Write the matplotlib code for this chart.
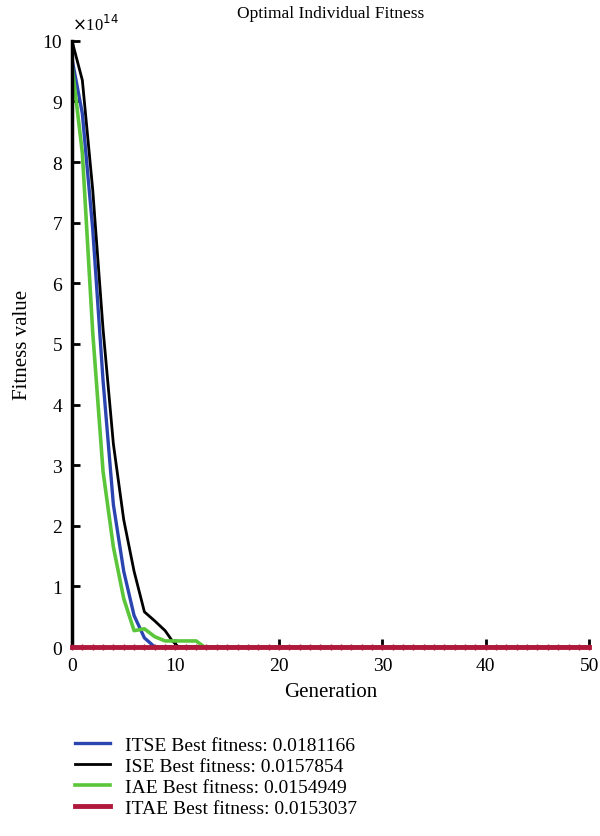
import matplotlib.pyplot as plt

plt.rcParams['font.family'] = ['Liberation Serif', 'DejaVu Serif']

# fitness values, in units of 1e14
gen_itse = [0, 1, 2, 3, 4, 5, 6, 7, 8, 50]
itse = [9.7, 8.8, 6.9, 4.4, 2.35, 1.25, 0.52, 0.15, 0.0, 0.0]

gen_ise = [0, 1, 2, 3, 4, 5, 6, 7, 8, 9, 9.7, 10.3, 50]
ise = [10.0, 9.35, 7.55, 5.25, 3.35, 2.1, 1.25, 0.58, 0.43, 0.27, 0.1, 0.0, 0.0]

gen_iae = [0, 1, 2, 3, 4, 5, 6, 7, 8, 9, 10, 11, 12, 12.8, 50]
iae = [9.6, 8.15, 5.2, 2.9, 1.65, 0.8, 0.27, 0.3, 0.17, 0.1, 0.1, 0.1, 0.1, 0.0, 0.0]

gen_itae = list(range(0, 51))
itae = [0.0] * 51

labels = ['ITSE Best fitness: 0.0181166',
          'ISE Best fitness: 0.0157854',
          'IAE Best fitness: 0.0154949',
          'ITAE Best fitness: 0.0153037']

fig = plt.figure(figsize=(6, 8.37), dpi=100)
ax = fig.add_axes([0.12, 0.2258, 0.862, 0.7242])

l1, = ax.plot(gen_itse, itse, color='#2b45b0', lw=2.4)
l2, = ax.plot(gen_ise, ise, color='black', lw=2.0)
l3, = ax.plot(gen_iae, iae, color='#5cc63a', lw=2.6)
l4, = ax.plot(gen_itae, itae, color='#b0183c', lw=3.5, clip_on=False, zorder=3)
# small marks at each generation on the ITAE line
ax.plot(gen_itae, itae, color='#b0183c', ls='none', marker='|', markersize=5,
        markeredgewidth=1, clip_on=False, zorder=3)

ax.set_xlim(0, 50)
ax.set_ylim(0, 10)
ax.set_xticks(range(0, 51, 10))
ax.set_yticks(range(0, 11))
ax.tick_params(direction='in', length=6, width=2, labelsize=14, pad=7)
for s in ['top', 'right']:
    ax.spines[s].set_visible(False)
ax.spines['left'].set_linewidth(2.5)
ax.spines['bottom'].set_linewidth(2)

ax.set_title('Optimal Individual Fitness', fontsize=12.5, pad=17)
ax.set_xlabel('Generation', fontsize=15, labelpad=6)
ax.set_ylabel('Fitness value', fontsize=15, labelpad=8)
ax.text(0.0, 1.012, r'$\times$10$^{14}$', transform=ax.transAxes, fontsize=12,
        va='bottom', ha='left')

fig.legend([l1, l2, l3, l4], labels, loc='upper left', bbox_to_anchor=(0.095, 0.14),
           frameon=False, fontsize=14, handlelength=1.8, handletextpad=0.8,
           labelspacing=0.18)

fig.savefig('out.png', dpi=100)
